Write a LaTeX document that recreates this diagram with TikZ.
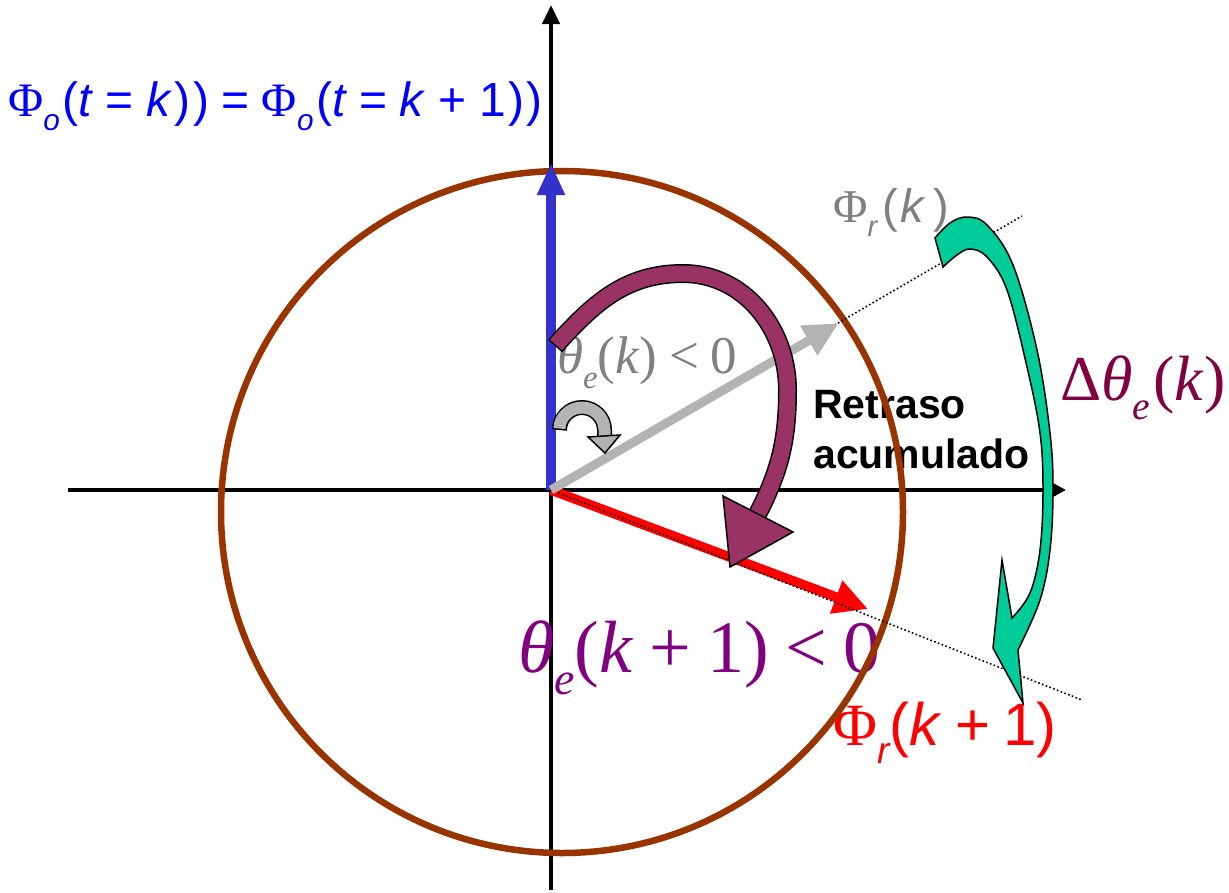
\documentclass[tikz,border=0pt]{standalone}
\usepackage{fontspec}
\usetikzlibrary{arrows.meta}
\newfontfamily\tms{Liberation Serif}
\newfontfamily\ari{Liberation Sans}
\definecolor{titleblue}{HTML}{0000FF}
\definecolor{arrowblue}{HTML}{3333CC}
\definecolor{lightgr}{HTML}{B3B3B3}
\definecolor{txtgray}{HTML}{808080}
\definecolor{circbrown}{HTML}{993300}
\definecolor{plum}{HTML}{993366}
\definecolor{txtpurple}{HTML}{800080}
\definecolor{maroonp}{HTML}{800040}
\definecolor{greenc}{HTML}{00CC99}
\newcommand\mysub[1]{\raisebox{-0.3em}{\scalebox{0.62}{#1}}}
\newcommand\myfs[1]{\fontsize{#1}{#1}\selectfont}
\newcommand\gp{\hspace{0.22em}}
\newcommand\wgp{\hspace{0.26em}}
\newcommand\tg{\hspace{0.05em}}
\tikzset{lbl/.style={anchor=base west, inner sep=0pt}}
\begin{document}
\begin{tikzpicture}[x=1pt,y=1pt,line join=miter]
\useasboundingbox (0,0) rectangle (1229,-892);
\coordinate (O) at (551,-490);
\coordinate (xend) at (1066,-490);
\coordinate (xstart) at (68,-490);
\coordinate (ystart) at (551,-890);
\coordinate (yend) at (551,-5);
% axes
\draw[line width=4.5pt,-{Triangle[length=13pt,width=13pt]}] (xstart) -- (xend);
\draw[line width=4.5pt,-{Triangle[length=19pt,width=17pt]}] (ystart) -- (yend);
% texts
\node[lbl,text=titleblue] (title) at (8,-116) {\myfs{48}{\tms Φ}\mysub{\ari\itshape o}\ari\tg(\textit{t}\wgp=\wgp\textit{k}\tg)\tg)\wgp=\wgp{\tms Φ}\mysub{\ari\itshape o}\tg(\textit{t}\wgp=\wgp\textit{k}\wgp+\wgp1\tg)\tg)};
\node[lbl,text=txtgray] (phirk) at (833,-222) {\myfs{47}{\tms Φ}\mysub{\ari\itshape r}\ari\hspace{0.12em}(\tg\textit{k}\hspace{0.15em})};
\node[lbl,text=txtgray] (thk) at (557,-373) {\myfs{53}\tms\textit{θ}\mysub{\itshape e}(\textit{k})\gp<\gp0};
\node[lbl] (ret1) at (813,-418) {\myfs{41}\ari\bfseries Retraso};
\node[lbl] (ret2) at (813,-468) {\myfs{41}\ari\bfseries acumulado};
\node[lbl,text=maroonp] (dth) at (1060,-400) {\myfs{64}\tms Δ\textit{θ}\mysub{\itshape e}\tg(\textit{k})};
\node[lbl,text=txtpurple] (thk1) at (518,-672) {\myfs{74}\tms\textit{θ}\mysub{\itshape e}(\textit{k}\gp+\gp1)\gp<\gp0};
\node[lbl,text=red] (phirk1) at (833,-745) {\myfs{60}{\tms Φ}\mysub{\ari\itshape r}\ari(\textit{k}\gp+\gp1)};
% circle
\draw[circbrown,line width=6.5pt] (562,-512) circle (341);
% vectors
\coordinate (btip) at (551,-163);
\coordinate (rtip) at (868,-609);
\coordinate (gtip) at (839,-323);
\coordinate (d1) at (1022,-216);
\coordinate (d2) at (1082,-700);
\draw[arrowblue,line width=10pt,-{Triangle[length=32pt,width=26pt]}] (O) -- (btip);
\draw[red,line width=9.5pt,-{Triangle[length=34pt,width=33pt]}] (O) -- (rtip);
\draw[line width=1.6pt,dash pattern=on 1.6pt off 2.4pt] (O) -- (d1) (O) -- (d2);
\draw[lightgr,line width=9pt,-{Triangle[length=35pt,width=32pt]}] (O) -- (gtip);
% purple curved arrow
\coordinate (p0) at (555,-346);
\coordinate (p1) at (683,-273.5);
\coordinate (p2) at (787.5,-390);
\coordinate (p3) at (754,-521);
\draw[black,line width=19pt] (p0) to[out=48,in=180] (p1) to[out=0,in=90] (p2) to[out=-90,in=62] (p3);
\draw[plum,line width=16pt,shorten <=1.5pt] (p0) to[out=48,in=180] (p1) to[out=0,in=90] (p2) to[out=-90,in=62] (p3);
\filldraw[fill=plum,draw=black,line width=1.5pt] (723,-496) -- (793,-532) -- (730,-567) -- cycle;
% small gray curved arrow
\draw[black,line width=15pt] (559.5,-430) arc[start angle=180,end angle=0,radius=22.5] -- (604.5,-440);
\draw[lightgr,line width=12pt,shorten <=1.5pt] (559.5,-430) arc[start angle=180,end angle=0,radius=22.5] -- (604.5,-440);
\filldraw[fill=lightgr,draw=black,line width=1.5pt] (588,-437) -- (620,-435) -- (605,-453) -- cycle;
% green curved arrow
\filldraw[fill=greenc,draw=black,line width=1.5pt]
 plot[smooth,tension=0.6] coordinates {(935,-238) (950,-223) (967,-217) (987,-225) (1013,-265) (1037,-350) (1050,-433) (1053,-490) (1050,-550) (1040,-600) (1018,-650)}
 -- (1023,-703) -- (993,-648) -- (1002,-560) --
 plot[smooth,tension=0.6] coordinates {(1012,-618) (1030,-593) (1040,-550) (1043,-490) (1040,-433) (1027,-367) (1007,-290) (987,-257) (970,-249) (957,-255) (943,-267)} -- cycle;
\end{tikzpicture}
\end{document}
